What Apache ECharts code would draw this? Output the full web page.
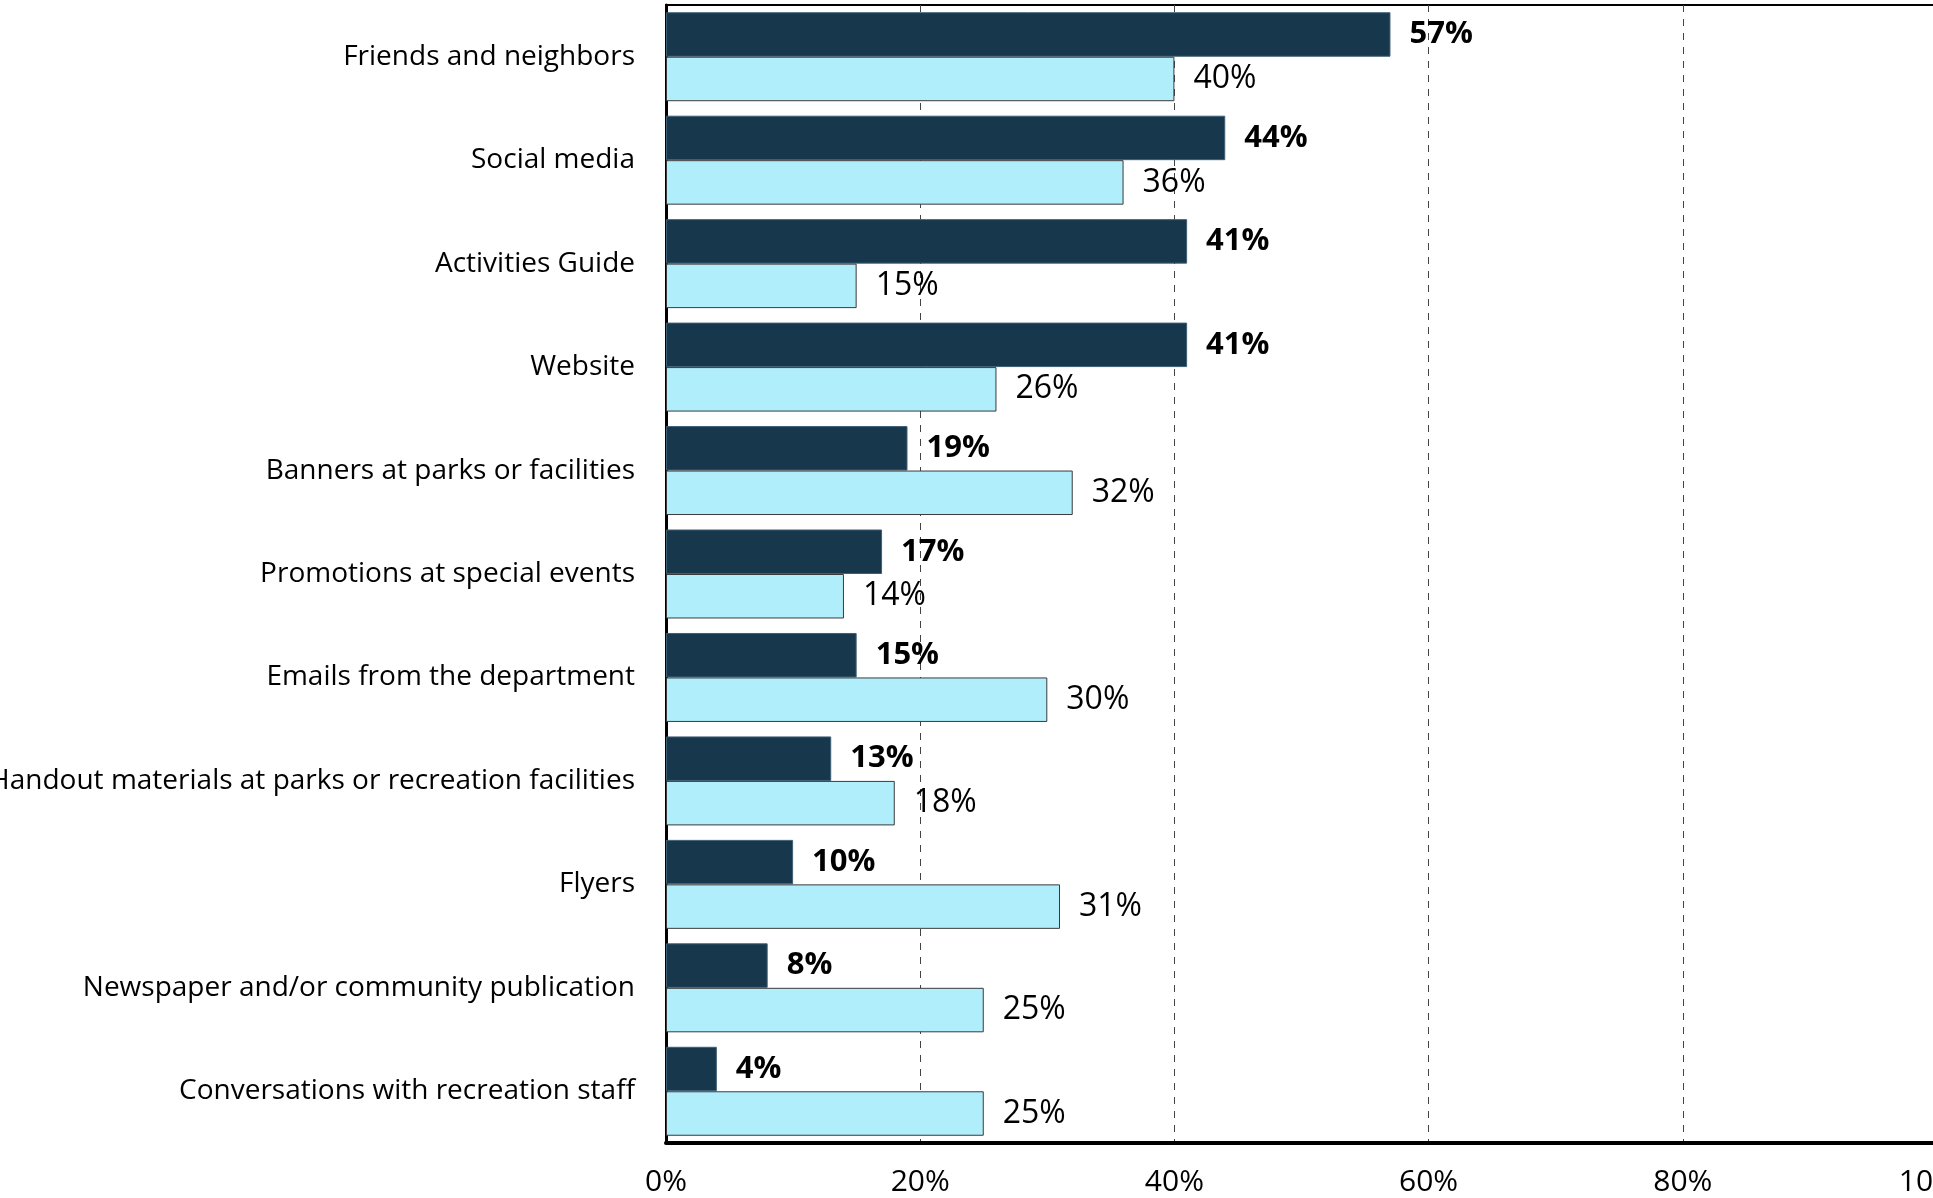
<!DOCTYPE html>
<html>
<head>
<meta charset="utf-8">
<script src="https://cdn.jsdelivr.net/npm/echarts@6/dist/echarts.min.js"></script>
<style>
html,body{margin:0;padding:0;background:#fff;}
#chart{width:1933px;height:1198px;}
</style>
</head>
<body>
<div id="chart"></div>
<script>
const categories = [
  "Friends and neighbors",
  "Social media",
  "Activities Guide",
  "Website",
  "Banners at parks or facilities",
  "Promotions at special events",
  "Emails from the department",
  "Handout materials at parks or recreation facilities",
  "Flyers",
  "Newspaper and/or community publication",
  "Conversations with recreation staff"
];
const darkValues = [57, 44, 41, 41, 19, 17, 15, 13, 10, 8, 4];
const lightValues = [40, 36, 15, 26, 32, 14, 30, 18, 31, 25, 25];
const xTicks = [0, 20, 40, 60, 80, 100];

const FONT = "'Open Sans', sans-serif";
const chart = echarts.init(document.getElementById('chart'));
chart.setOption({
  animation: false,
  backgroundColor: '#ffffff',
  grid: {
    left: 666, top: 5, width: 1271, height: 1138,
    containLabel: false, outerBoundsMode: 'none',
    show: true, borderColor: '#000', borderWidth: 2, backgroundColor: 'transparent'
  },
  xAxis: {
    type: 'value', min: xTicks[0], max: xTicks[xTicks.length - 1], interval: 20,
    axisLine: { show: true, lineStyle: { color: '#000', width: 4 } },
    axisTick: { show: false },
    axisLabel: { formatter: v => v + '%', fontFamily: FONT, fontSize: 30, color: '#000', margin: 24 },
    splitLine: { show: true, lineStyle: { color: '#444', type: [7, 7], width: 1 } }
  },
  yAxis: {
    type: 'category', data: categories, inverse: true,
    axisLine: { show: true, lineStyle: { color: '#000', width: 3 } },
    axisTick: { show: false },
    axisLabel: { fontFamily: FONT, fontSize: 28, color: '#000', margin: 31 }
  },
  series: [
    {
      type: 'bar', data: darkValues, barGap: '0%', barCategoryGap: '14%',
      itemStyle: { color: '#17374C', borderColor: '#3f5f75', borderWidth: 1 },
      label: { show: true, position: 'right', distance: 19, formatter: p => p.value + '%',
        fontFamily: FONT, fontSize: 31, fontWeight: 'bold', color: '#000' }
    },
    {
      type: 'bar', data: lightValues,
      itemStyle: { color: '#B0EEFC', borderColor: '#3a3a3a', borderWidth: 1 },
      label: { show: true, position: 'right', distance: 19, formatter: p => p.value + '%',
        fontFamily: FONT, fontSize: 32, color: '#000' }
    }
  ]
});
</script>
</body>
</html>
